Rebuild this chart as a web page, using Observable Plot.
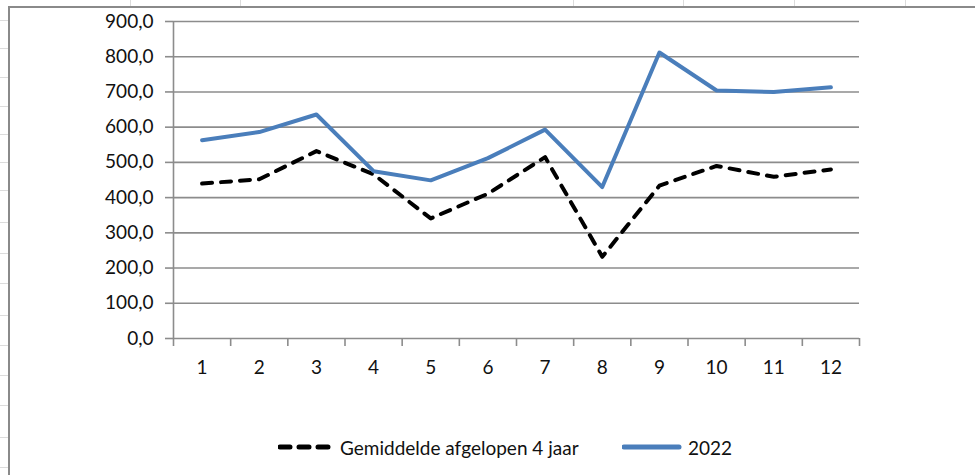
<!DOCTYPE html>
<html>
<head>
<meta charset="utf-8">
<script src="https://cdn.jsdelivr.net/npm/d3@7"></script>
<script src="https://cdn.jsdelivr.net/npm/@observablehq/plot@0.6"></script>
<style>
  html, body { margin: 0; padding: 0; background: #fff; }
  body { width: 975px; height: 475px; position: relative; overflow: hidden; font-family: Lato, "Open Sans", sans-serif; }
  .cellh { position: absolute; left: 0; width: 8px; height: 1px; background: #dcdcdc; }
  .cellv { position: absolute; top: 0; width: 1px; height: 6px; background: #dcdcdc; }
  #frame { position: absolute; left: 8px; top: 6px; right: -2px; bottom: -2px; border-left: 2px solid #8a8a8a; border-top: 2px solid #8a8a8a; }
  #chart { position: absolute; left: 0; top: 0; }
  #legend { position: absolute; top: 434px; left: 0; width: 975px; height: 26px; font-size: 19px; color: #111; }
  .item { position: absolute; top: 0; display: flex; align-items: center; height: 26px; }
  .item svg { display: block; margin-right: 6px; }
</style>
</head>
<body>
<div id="cells"></div>
<div id="frame"></div>
<div id="chart"></div>
<div id="legend"></div>
<script>
// ---- data ----
const months = [1, 2, 3, 4, 5, 6, 7, 8, 9, 10, 11, 12];
const gemiddelde = [440, 452, 532, 466, 341, 411, 515, 232, 434, 490, 459, 480];
const jaar2022 = [563, 586, 636, 475, 449, 512, 593, 430, 812, 704, 700, 713];
const yTicks = [0, 100, 200, 300, 400, 500, 600, 700, 800, 900];
const seriesNames = ["Gemiddelde afgelopen 4 jaar", "2022"];

// spreadsheet cell lines (decoration)
const cells = document.getElementById("cells");
[20, 48, 77, 106, 134, 162, 190, 222, 253, 283, 315, 345, 375, 405, 437, 467].forEach(y => {
  const d = document.createElement("div"); d.className = "cellh"; d.style.top = y + "px"; cells.appendChild(d);
});
[130, 240, 573, 683, 794, 905].forEach(x => {
  const d = document.createElement("div"); d.className = "cellv"; d.style.left = x + "px"; cells.appendChild(d);
});

const avgData = months.map((m, i) => ({month: m, value: gemiddelde[i]}));
const curData = months.map((m, i) => ({month: m, value: jaar2022[i]}));
const boundaries = d3.range(0.5, 13, 1);
const fmt = d => d.toFixed(1).replace(".", ",");

const gridColor = "#8c8c8c";
const chart = Plot.plot({
  width: 975,
  height: 400,
  marginTop: 21,
  marginBottom: 62,
  marginLeft: 173,
  marginRight: 116,
  style: {fontFamily: "Lato, 'Open Sans', sans-serif", fontSize: "19px", color: "#111", background: "transparent", overflow: "visible"},
  x: {domain: [0.5, 12.5]},
  y: {domain: [0, 900]},
  marks: [
    Plot.ruleY(yTicks.filter(d => d > 0), {stroke: gridColor, strokeWidth: 1.6}),
    // y axis line, ticks and labels
    Plot.ruleX([0.5], {stroke: gridColor, strokeWidth: 1.6}),
    Plot.axisY(yTicks, {tickSize: 8, tickPadding: 12, tickFormat: fmt, stroke: gridColor, strokeWidth: 1.6, fill: "#111", label: null}),
    // x axis line, ticks at boundaries, labels at centres
    Plot.ruleY([0], {stroke: gridColor, strokeWidth: 1.6}),
    Plot.axisX(boundaries, {tickSize: 8, tickFormat: () => "", stroke: gridColor, strokeWidth: 1.6, label: null}),
    Plot.text(months, {x: d => d, y: 0, dy: 29, text: d => String(d), textAnchor: "middle", lineAnchor: "middle", fill: "#111"}),
    // series
    Plot.line(avgData, {x: "month", y: "value", stroke: "#000", strokeWidth: 4, strokeDasharray: "10,9", strokeLinecap: "round", strokeLinejoin: "round"}),
    Plot.line(curData, {x: "month", y: "value", stroke: "#4a7ebb", strokeWidth: 4, strokeLinecap: "round", strokeLinejoin: "round"})
  ]
});
document.getElementById("chart").appendChild(chart);

// legend
const legend = document.getElementById("legend");
function addItem(left, name, swatch) {
  const it = document.createElement("div");
  it.className = "item";
  it.style.left = left + "px";
  it.innerHTML = swatch + `<span>${name}</span>`;
  legend.appendChild(it);
}
addItem(278, seriesNames[0], `<svg width="56" height="10"><line x1="2" y1="5" x2="52" y2="5" stroke="#000" stroke-width="5" stroke-linecap="round" stroke-dasharray="10,9"/></svg>`);
addItem(622, seriesNames[1], `<svg width="60" height="10"><line x1="2" y1="5" x2="57" y2="5" stroke="#4a7ebb" stroke-width="5" stroke-linecap="round"/></svg>`);
</script>
</body>
</html>
